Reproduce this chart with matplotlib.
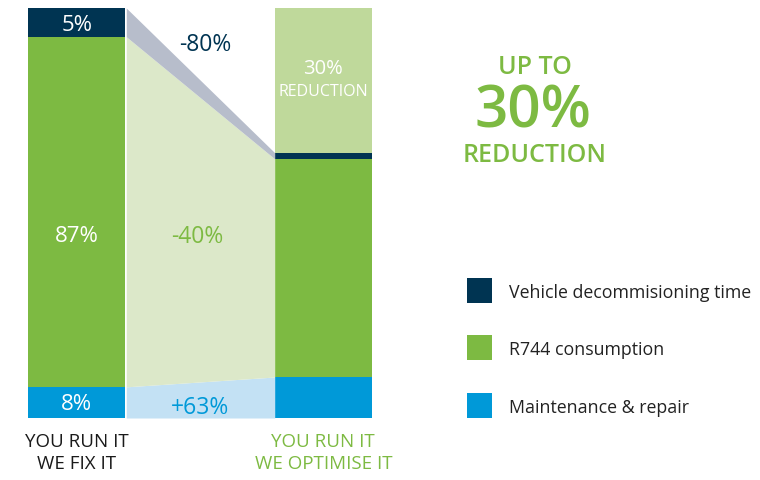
import matplotlib
matplotlib.use("Agg")
import matplotlib.pyplot as plt
from matplotlib.patches import Rectangle
import numpy as np

plt.rcParams['font.family'] = ['Open Sans', 'DejaVu Sans']

# segment heights (share of the "you run it / we fix it" total, as drawn)
series = ["Vehicle decommisioning time", "R744 consumption", "Maintenance & repair"]
left_vals = [7.6, 85.4, 7.0]     # maintenance, R744, decommissioning (bottom -> top)
right_vals = [10.0, 53.2, 1.5]
left_labels = ["8%", "87%", "5%"]
change_labels = ["+63%", "-40%", "-80%"]
bar_names = ["YOU RUN IT\nWE FIX IT", "YOU RUN IT\nWE OPTIMISE IT"]

# colours bottom -> top
c_bar = ["#0099d8", "#7dba42", "#003452"]
c_flow = ["#c3e1f4", "#dce8c9", "#b7bdcb"]
c_reduce = "#bfd99b"

W, H = 760, 481
fig = plt.figure(figsize=(W / 100, H / 100), dpi=100)

def px(x, y):
    return x / W, 1 - y / H

# main axes spans the two bars
bw = 97 / 246
ax = fig.add_axes([28 / W, (H - 419) / H, 344 / W, 410 / H])
ax.set_xlim(-bw / 2, 1 + bw / 2)
ax.set_ylim(0, 100)
ax.axis("off")

lb = np.concatenate([[0], np.cumsum(left_vals)])
rb = np.concatenate([[0], np.cumsum(right_vals)])

for i in range(3):
    ax.bar(0, left_vals[i], bottom=lb[i], width=bw, color=c_bar[i], linewidth=0)
    ax.bar(1, right_vals[i], bottom=rb[i], width=bw, color=c_bar[i], linewidth=0)
    x0, x1 = bw / 2 + 0.004, 1 - bw / 2
    ax.fill_between([x0, x1], [lb[i], rb[i]], [lb[i + 1], rb[i + 1]],
                    color=c_flow[i], linewidth=0)

# reduction block on top of right bar
ax.bar(1, 100 - rb[-1], bottom=rb[-1], width=bw, color=c_reduce, linewidth=0)

# labels inside left bar
label_y = [3.6, 44.5, 96.0]
for i in range(3):
    ax.text(0, label_y[i], left_labels[i], color="white",
            ha="center", va="center", fontsize=16)

# change labels in the flows
flow_y = [2.8, 44.5, 91.2]
flow_x = [0.5, 0.49, 0.52]
flow_c = ["#0099d8", "#7dba42", "#003452"]
for i in range(3):
    ax.text(flow_x[i], flow_y[i], change_labels[i],
            color=flow_c[i], ha="center", va="center", fontsize=16.5)

ax.text(1, 85.3, "30%", color="white", ha="center", va="center", fontsize=14.5)
ax.text(1, 79.8, "REDUCTION", color="white", ha="center", va="center", fontsize=11.5)

# category names below bars
name_cols = ["#1a1a1a", "#7dba42"]
for i, name in enumerate(bar_names):
    ax.text(i, -3.3, name, color=name_cols[i], ha="center", va="top",
            fontsize=13.5, linespacing=1.3)

# headline
g = "#7dba42"
fig.text(*px(535, 68), "UP TO", color=g, ha="center", va="center",
         fontsize=18, fontweight="semibold")
fig.text(*px(533, 112), "30%", color=g, ha="center", va="center",
         fontsize=42, fontweight="semibold")
fig.text(*px(535, 156), "REDUCTION", color=g, ha="center", va="center",
         fontsize=18, fontweight="semibold")

# legend (top -> bottom)
leg_cols = ["#003452", "#7dba42", "#0099d8"]
leg_y = [279, 336, 394]
for name, col, y in zip(series, leg_cols, leg_y):
    x0, y0 = px(467, y + 25)
    fig.add_artist(Rectangle((x0, y0), 25 / W, 25 / H, color=col,
                             transform=fig.transFigure, linewidth=0))
    fig.text(*px(509, y + 14), name, color="#222222", ha="left", va="center",
             fontsize=12.8)

fig.savefig("out.png", dpi=100)
